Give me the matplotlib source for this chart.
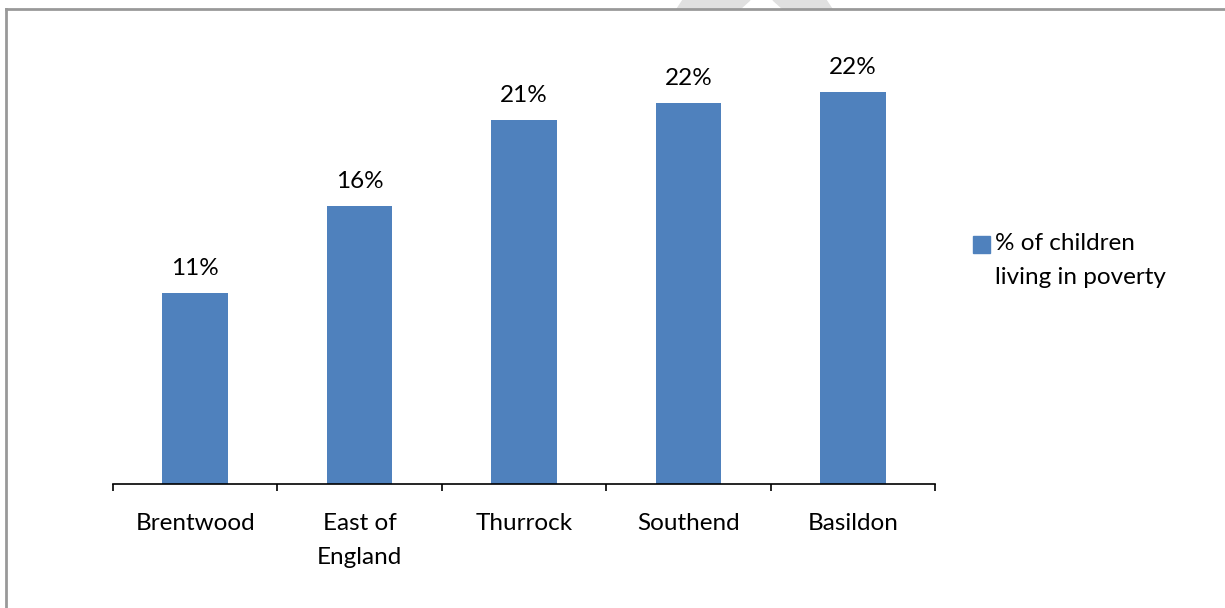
import matplotlib.pyplot as plt
from matplotlib.patches import Polygon
from matplotlib.lines import Line2D

areas = ["Brentwood", "East of\nEngland", "Thurrock", "Southend", "Basildon"]
poverty = [10.9, 15.9, 20.8, 21.8, 22.4]
series_name = "% of children\nliving in poverty"

bar_colour = "#4f81bd"
W, H = 1225, 608
fs = 17.5

plt.rcParams['font.family'] = ['Lato', 'DejaVu Sans']

fig = plt.figure(figsize=(W / 100, H / 100), dpi=100)

# plot area in pixels
left, right, bottom = 113, 935, 484
ymax = 25
top = bottom - ymax * 17.5
ax = fig.add_axes([left / W, 1 - bottom / H, (right - left) / W, (bottom - top) / H])

x = range(len(areas))
bars = ax.bar(x, poverty, width=0.4, color=bar_colour)
for b, v in zip(bars, poverty):
    ax.annotate(f"{round(v):.0f}%", (b.get_x() + b.get_width() / 2, v),
                xytext=(0, 10), textcoords="offset points",
                ha="center", va="bottom", fontsize=fs)

ax.set_xlim(-0.5, len(areas) - 0.5)
ax.set_ylim(0, ymax)
for s in ["top", "right", "left"]:
    ax.spines[s].set_visible(False)
ax.spines["bottom"].set_color("black")
ax.spines["bottom"].set_linewidth(1.2)
ax.set_yticks([])
ax.set_xticks([i - 0.5 for i in range(len(areas) + 1)])
ax.set_xticklabels([])
ax.set_xticks(list(x), minor=True)
ax.set_xticklabels(areas, minor=True, fontsize=fs, linespacing=1.75)
ax.tick_params(axis="x", which="major", length=5, width=1.2, direction="out", color="black")
ax.tick_params(axis="x", which="minor", length=0, pad=21)

# legend
fig.patches.append(plt.Rectangle((973 / W, 1 - 253 / H), 17 / W, 17 / H,
                                 transform=fig.transFigure, color=bar_colour))
fig.text(995 / W, 1 - 233 / H, series_name, fontsize=fs, va="top",
         linespacing=1.75, ha="left")

# frame of the chart area
fig.add_artist(Line2D([6 / W, 1], [1 - 9 / H, 1 - 9 / H], color="#999999", lw=2,
                      transform=fig.transFigure))
fig.add_artist(Line2D([6 / W, 6 / W], [0, 1 - 9 / H], color="#999999", lw=2,
                      transform=fig.transFigure))

# faint watermark peeking in at the top
wm = [[(683, 0), (750, 0), (740, 9), (677, 9)], [(773, 0), (826, 0), (832, 9), (783, 9)]]
for pts in wm:
    fig.patches.append(Polygon([(px / W, 1 - py / H) for px, py in pts], closed=True,
                               transform=fig.transFigure, color="#e0e0e0", zorder=0))

fig.savefig("out.png", dpi=100)
